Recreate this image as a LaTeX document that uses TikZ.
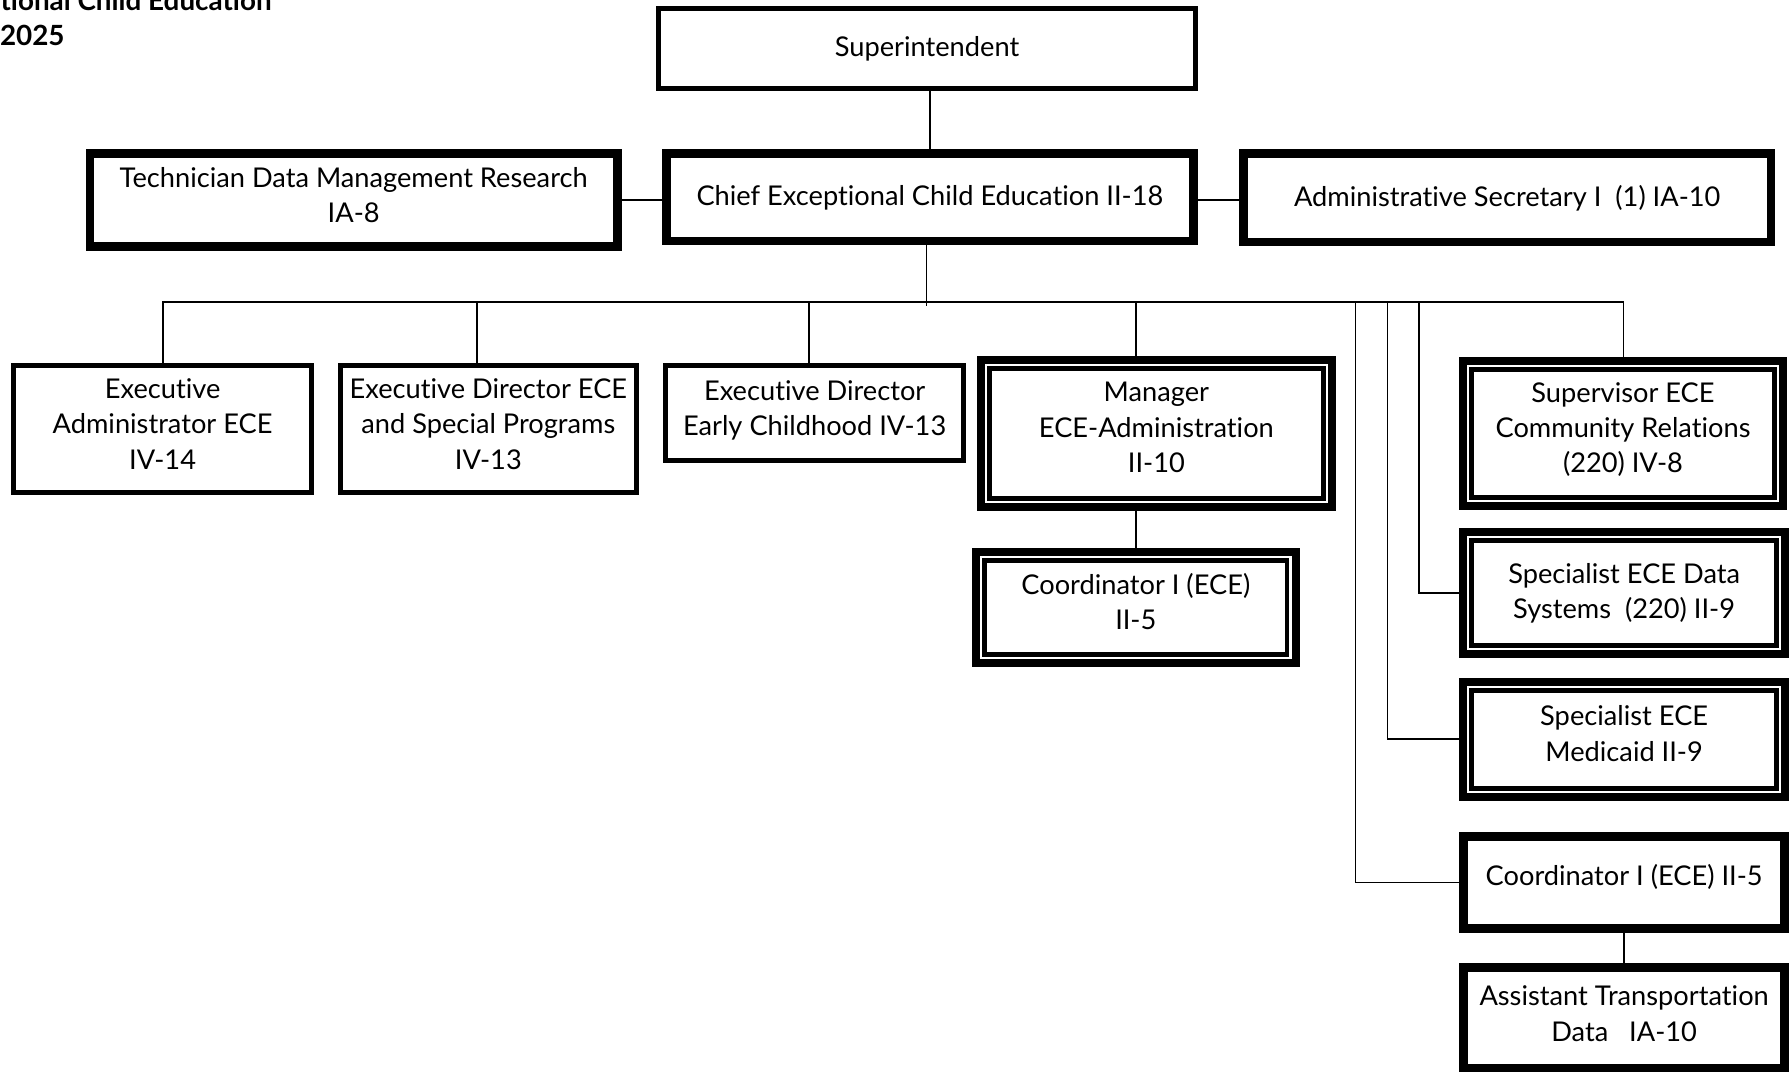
\documentclass[tikz,border=0pt]{standalone}
\usepackage{fontspec}
\setmainfont{Lato}[Ligatures={NoCommon,NoContextual}]
\def\u{0.57pt}
\newcommand\dstr[1][5.2pt]{\rule[-#1]{0pt}{#1}}
\begin{document}
\begin{tikzpicture}[x=0.57pt,y=-0.57pt,
  every node/.style={font=\fontsize{13.6pt}{17.7pt}\selectfont, align=center, inner sep=0pt, outer sep=0pt},
  thinbox/.style 2 args={draw, line width=2.5pt, fill=white,
    minimum width={(#1-4.4)*\u}, minimum height={(#2-4.4)*\u}},
  thickbox/.style 2 args={draw, line width=4.4pt, fill=white,
    minimum width={(#1-7.7)*\u}, minimum height={(#2-7.7)*\u}},
  dblbox/.style 2 args={draw, line width=4pt, fill=white,
    minimum width={(#1-7)*\u}, minimum height={(#2-7)*\u},
    path picture={\draw[line width=2.4pt]
      ([shift={(4.3pt,4.3pt)}]path picture bounding box.south west) rectangle
      ([shift={(-4.3pt,-4.3pt)}]path picture bounding box.north east);}},
  link/.style={line width=0.9pt},
  title/.style={font=\bfseries\fontsize{13.9pt}{16pt}\selectfont}
]
\useasboundingbox (0,0) rectangle (1568,939);
\clip (0,0) rectangle (1568,939);

% title (cut off at the top edge, as in the reference)
\node[title, anchor=base east] (t1) at (238,9.6) {tional Child Education};
\node[title, anchor=base west] (t2) at (0,40) {2025};

% connector coordinates
\coordinate (busL) at (143,265);
\coordinate (busR) at (1423,265);
\coordinate (junc) at (812,268);
\coordinate (d2) at (418,265);
\coordinate (d3) at (709,265);
\coordinate (d4) at (996,265);
\coordinate (d5) at (1244,265);
\coordinate (d6) at (1216,265);
\coordinate (d7) at (1188,265);

% boxes
\node[thinbox={475}{75}] (super) at (812.5,42.5) {Superintendent};
\node[thickbox={470}{84}] (chief) at (815,173) {Chief Exceptional Child Education II-18};
\node[thickbox={470}{89}] (tech) at (310,175.5) {Technician Data Management Research\\IA-8\dstr};
\node[thickbox={470}{85}] (admin) at (1321,173.5) {Administrative Secretary I\ \ (1) IA-10};
\node[thinbox={265}{116}] (execadm) at (142.5,376) {Executive\\Administrator ECE\\IV-14\dstr};
\node[thinbox={264}{116}] (execdir) at (428,376) {Executive Director ECE\\and Special Programs\\IV-13\dstr};
\node[thinbox={266}{88}] (execec) at (714,362) {Executive Director\\Early Childhood IV-13\dstr};
\node[dblbox={315}{136}] (mgr) at (1013.5,380) {Manager\\ECE-Administration\\II-10\dstr[6pt]};
\node[dblbox={287}{105}] (coordA) at (995.5,532.5) {Coordinator I (ECE)\\II-5\dstr[6pt]};
\node[dblbox={287}{134}] (superv) at (1422.5,380) {Supervisor ECE\\Community Relations\\(220) IV-8\dstr[6pt]};
\node[dblbox={289}{114}] (specdata) at (1423.5,520) {Specialist ECE Data\\Systems\ \ (220) II-9};
\node[dblbox={289}{108}] (specmed) at (1423.5,648) {Specialist ECE\\Medicaid II-9\dstr[6pt]};
\node[thickbox={289}{88}] (coordB) at (1423.5,773.5) {Coordinator I (ECE) II-5\dstr[8pt]};
\node[thickbox={289}{96}] (asst) at (1423.5,892) {Assistant Transportation\\Data\ \ \ IA-10\dstr[4pt]};

% connectors
\draw[link] (chief.north) -- (chief.north |- super.south);
\draw[link] (tech.east) -- (tech.east -| chief.west);
\draw[link] (chief.east |- tech.east) -- (admin.west |- tech.east);
\draw[link] (chief.south -| junc) -- (junc);
\draw[link] (execadm.north -| busL) -- (busL) -- (busR) -- (busR |- superv.north);
\draw[link] (d2) -- (d2 |- execdir.north);
\draw[link] (d3) -- (d3 |- execec.north);
\draw[link] (d4) -- (d4 |- mgr.north);
\draw[link] (d5) |- (specdata.west);
\draw[link] (d6) |- (specmed.west);
\draw[link] (d7) |- (coordB.west);
\draw[link] (coordA.north) -- (coordA.north |- mgr.south);
\draw[link] (coordB.south) -- (asst.north);
\end{tikzpicture}
\end{document}
